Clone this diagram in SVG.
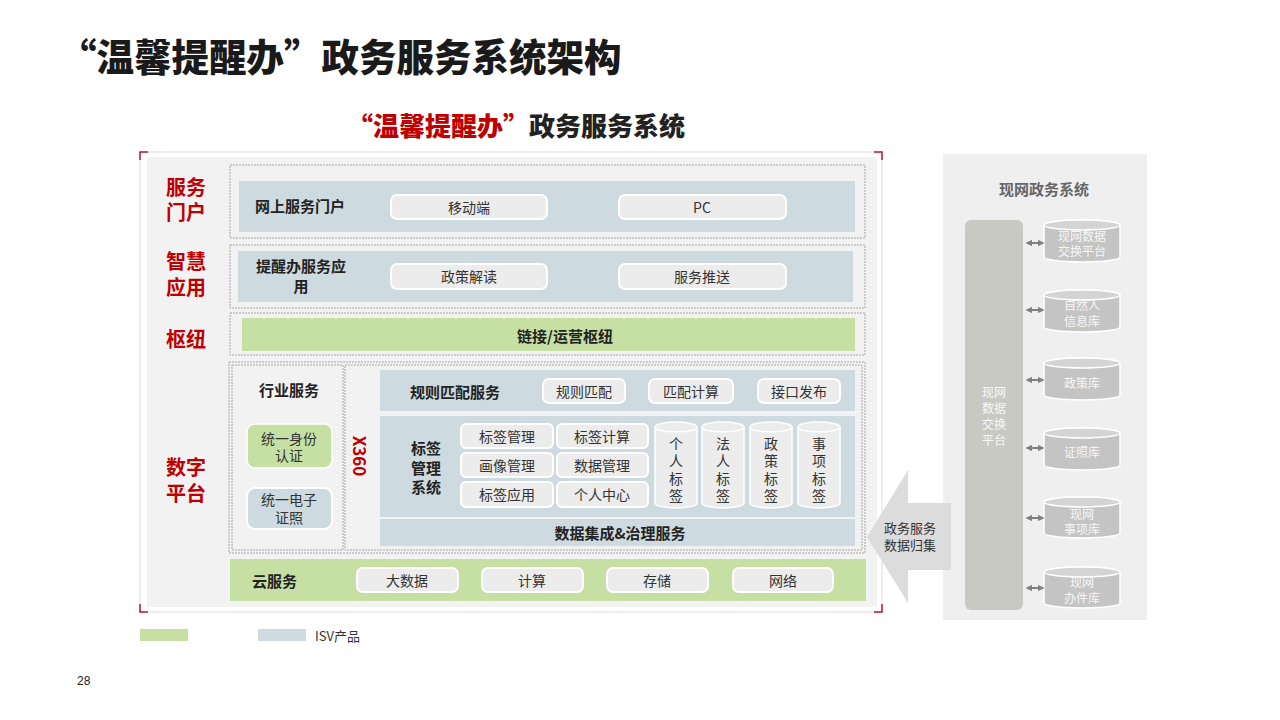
<svg xmlns="http://www.w3.org/2000/svg" width="1280" height="720" viewBox="0 0 1280 720">
<defs>
<style>
text{font-family:"Noto Sans CJK SC","Noto Sans",sans-serif;fill:#333;}
.b{font-weight:700;}
.red{fill:#c00000;font-weight:700;font-size:20px;}
.hd{font-weight:700;font-size:15px;fill:#222;}
.pt{font-size:14px;fill:#333;}
.dash{fill:none;stroke:#a6a6a6;stroke-width:1;stroke-dasharray:2 1;}
.blue{fill:#cddadf;}
.green{fill:#c6e0a4;}
.pill{fill:#ececec;stroke:#ffffff;stroke-width:2;}
.cyl{fill:#ececec;stroke:#ffffff;stroke-width:1.5;}
.rcyl{fill:#c4c4c4;stroke:#ffffff;stroke-width:1.5;}
.rtop{fill:#d4d4d4;stroke:#ffffff;stroke-width:1.5;}
.rt{font-size:12px;fill:#f7f7f7;}
.corner{fill:none;stroke:#c0143c;stroke-width:1.5;}
.dbl{stroke:#7f7f7f;stroke-width:2;marker-start:url(#ah);marker-end:url(#ah);}
</style>
<marker id="ah" viewBox="0 0 10 10" refX="8" refY="5" markerWidth="3.2" markerHeight="3.2" orient="auto-start-reverse">
<path d="M0,0 L10,5 L0,10 z" fill="#7f7f7f"/>
</marker>
</defs>
<rect width="1280" height="720" fill="#ffffff"/>

<g id="title">
<text x="59" y="71" font-weight="900" font-size="37.5" style="fill:#1a1a1a">“温馨提醒办”政务服务系统架构</text>
<text x="516" y="136" font-weight="900" font-size="26" text-anchor="middle"><tspan style="fill:#c00000">“温馨提醒办”</tspan><tspan style="fill:#222">政务服务系统</tspan></text>
</g>

<g id="main-frame">
<rect x="140" y="152" width="742" height="460" fill="#ffffff" stroke="#dcdcdc" stroke-width="1"/>
<rect x="147" y="157" width="730" height="450" fill="#f2f2f2"/>
<path class="corner" d="M140,160 V152 H148 M874,152 H882 V160 M140,604 V612 H148 M874,612 H882 V604"/>
</g>

<g id="left-labels">
<text class="red" text-anchor="middle"><tspan x="186" y="195">服务</tspan><tspan x="186" y="220">门户</tspan></text>
<text class="red" text-anchor="middle"><tspan x="186" y="269">智慧</tspan><tspan x="186" y="295">应用</tspan></text>
<text class="red" x="186" y="347" text-anchor="middle">枢纽</text>
<text class="red" text-anchor="middle"><tspan x="186" y="475">数字</tspan><tspan x="186" y="501">平台</tspan></text>
</g>

<g id="row-portal">
<rect class="dash" x="230" y="165" width="635" height="73"/>
<rect class="blue" x="239" y="181" width="616" height="51"/>
<text class="hd" x="255" y="205" dominant-baseline="central">网上服务门户</text>
<rect class="pill" x="391" y="195" width="156" height="24" rx="6"/>
<text class="pt" x="469" y="207" text-anchor="middle" dominant-baseline="central">移动端</text>
<rect class="pill" x="619" y="195" width="167" height="24" rx="6"/>
<text class="pt" x="702" y="207" text-anchor="middle" dominant-baseline="central">PC</text>
</g>

<g id="row-app">
<rect class="dash" x="230" y="245" width="635" height="63"/>
<rect class="blue" x="238" y="251" width="615" height="51"/>
<text class="hd" text-anchor="middle"><tspan x="301" y="272">提醒办服务应</tspan><tspan x="301" y="292">用</tspan></text>
<rect class="pill" x="391" y="264" width="156" height="25" rx="6"/>
<text class="pt" x="469" y="276" text-anchor="middle" dominant-baseline="central">政策解读</text>
<rect class="pill" x="619" y="264" width="167" height="25" rx="6"/>
<text class="pt" x="702" y="276" text-anchor="middle" dominant-baseline="central">服务推送</text>
</g>

<g id="row-hub">
<rect class="dash" x="230" y="313" width="635" height="42"/>
<rect class="green" x="242" y="318" width="613" height="33"/>
<text class="hd" x="565" y="335" text-anchor="middle" dominant-baseline="central">链接/运营枢纽</text>
</g>

<g id="digital-platform">
<rect class="dash" x="229" y="362" width="636" height="191"/>
<rect class="dash" x="232" y="365" width="111" height="185"/>
<rect class="dash" x="345" y="365" width="517" height="185"/>
</g>

<g id="industry-service">
<text class="hd" x="289" y="389" text-anchor="middle" dominant-baseline="central">行业服务</text>
<rect class="green" x="247" y="424" width="85" height="44" rx="8" stroke="#ffffff" stroke-width="1.5"/>
<text class="pt" text-anchor="middle"><tspan x="289" y="444">统一身份</tspan><tspan x="289" y="461">认证</tspan></text>
<rect class="blue" x="247" y="488" width="85" height="41" rx="8" stroke="#ffffff" stroke-width="2"/>
<text class="pt" text-anchor="middle"><tspan x="289" y="505">统一电子</tspan><tspan x="289" y="523">证照</tspan></text>
</g>

<g id="x360">
<text transform="translate(360,456) rotate(90)" class="b" font-size="17" text-anchor="middle" dominant-baseline="central" style="fill:#c00000">X360</text>
</g>

<g id="rule-matching">
<rect class="blue" x="380" y="370" width="475" height="41"/>
<text class="hd" x="410" y="391" dominant-baseline="central">规则匹配服务</text>
<rect class="pill" x="543" y="379" width="82" height="24" rx="6"/>
<text class="pt" x="584" y="391" text-anchor="middle" dominant-baseline="central">规则匹配</text>
<rect class="pill" x="649" y="379" width="84" height="24" rx="6"/>
<text class="pt" x="691" y="391" text-anchor="middle" dominant-baseline="central">匹配计算</text>
<rect class="pill" x="758" y="379" width="82" height="24" rx="6"/>
<text class="pt" x="799" y="391" text-anchor="middle" dominant-baseline="central">接口发布</text>
</g>

<g id="tag-system">
<rect class="blue" x="380" y="416" width="475" height="101"/>
<text class="hd" text-anchor="middle"><tspan x="426" y="454">标签</tspan><tspan x="426" y="474">管理</tspan><tspan x="426" y="493">系统</tspan></text>
<rect class="pill" x="461" y="424" width="92" height="24" rx="5"/>
<text class="pt" x="507" y="436" text-anchor="middle" dominant-baseline="central">标签管理</text>
<rect class="pill" x="557" y="424" width="91" height="24" rx="5"/>
<text class="pt" x="602" y="436" text-anchor="middle" dominant-baseline="central">标签计算</text>
<rect class="pill" x="461" y="453" width="92" height="24" rx="5"/>
<text class="pt" x="507" y="465" text-anchor="middle" dominant-baseline="central">画像管理</text>
<rect class="pill" x="557" y="453" width="91" height="24" rx="5"/>
<text class="pt" x="602" y="465" text-anchor="middle" dominant-baseline="central">数据管理</text>
<rect class="pill" x="461" y="482" width="92" height="25" rx="5"/>
<text class="pt" x="507" y="494" text-anchor="middle" dominant-baseline="central">标签应用</text>
<rect class="pill" x="557" y="482" width="91" height="25" rx="5"/>
<text class="pt" x="602" y="494" text-anchor="middle" dominant-baseline="central">个人中心</text>
</g>

<g id="tag-cylinders">
<path class="cyl" d="M655,427 A21,5 0 0 1 697,427 V503 A21,5 0 0 1 655,503 Z"/>
<path class="cyl" d="M655,427 A21,5 0 0 0 697,427"/>
<text class="pt" font-size="15" text-anchor="middle"><tspan x="676" y="449">个</tspan><tspan x="676" y="466">人</tspan><tspan x="676" y="484">标</tspan><tspan x="676" y="501">签</tspan></text>
<path class="cyl" d="M702,427 A21,5 0 0 1 744,427 V503 A21,5 0 0 1 702,503 Z"/>
<path class="cyl" d="M702,427 A21,5 0 0 0 744,427"/>
<text class="pt" font-size="15" text-anchor="middle"><tspan x="723" y="449">法</tspan><tspan x="723" y="466">人</tspan><tspan x="723" y="484">标</tspan><tspan x="723" y="501">签</tspan></text>
<path class="cyl" d="M750,427 A21,5 0 0 1 792,427 V503 A21,5 0 0 1 750,503 Z"/>
<path class="cyl" d="M750,427 A21,5 0 0 0 792,427"/>
<text class="pt" font-size="15" text-anchor="middle"><tspan x="771" y="449">政</tspan><tspan x="771" y="466">策</tspan><tspan x="771" y="484">标</tspan><tspan x="771" y="501">签</tspan></text>
<path class="cyl" d="M798,427 A21,5 0 0 1 840,427 V503 A21,5 0 0 1 798,503 Z"/>
<path class="cyl" d="M798,427 A21,5 0 0 0 840,427"/>
<text class="pt" font-size="15" text-anchor="middle"><tspan x="819" y="449">事</tspan><tspan x="819" y="466">项</tspan><tspan x="819" y="484">标</tspan><tspan x="819" y="501">签</tspan></text>
</g>

<g id="data-integration">
<rect class="blue" x="380" y="519" width="475" height="27"/>
<text class="hd" x="620" y="532" text-anchor="middle" dominant-baseline="central">数据集成&amp;治理服务</text>
</g>

<g id="cloud-service">
<rect class="green" x="230" y="559" width="636" height="42"/>
<text class="hd" x="252" y="580" dominant-baseline="central">云服务</text>
<rect class="pill" x="357" y="568" width="101" height="24" rx="6"/>
<text class="pt" x="407" y="580" text-anchor="middle" dominant-baseline="central">大数据</text>
<rect class="pill" x="482" y="568" width="101" height="24" rx="6"/>
<text class="pt" x="532" y="580" text-anchor="middle" dominant-baseline="central">计算</text>
<rect class="pill" x="607" y="568" width="101" height="24" rx="6"/>
<text class="pt" x="657" y="580" text-anchor="middle" dominant-baseline="central">存储</text>
<rect class="pill" x="733" y="568" width="100" height="24" rx="6"/>
<text class="pt" x="783" y="580" text-anchor="middle" dominant-baseline="central">网络</text>
</g>

<g id="right-panel">
<rect x="943" y="154" width="204" height="466" fill="#efefef"/>
<text x="1044" y="188" class="b" font-size="15" text-anchor="middle" dominant-baseline="central" style="fill:#666">现网政务系统</text>
</g>

<g id="exchange-bar">
<rect x="965" y="220" width="58" height="390" rx="6" fill="#c9c9c4"/>
<text class="rt" font-size="13" text-anchor="middle"><tspan x="994" y="397">现网</tspan><tspan x="994" y="413">数据</tspan><tspan x="994" y="429">交换</tspan><tspan x="994" y="445">平台</tspan></text>
</g>

<g id="db-exchange">
<path class="rcyl" d="M1044,225 A38,5 0 0 1 1120,225 V257 A38,5 0 0 1 1044,257 Z"/>
<ellipse class="rtop" cx="1082" cy="225" rx="38" ry="5"/>
<text class="rt" text-anchor="middle"><tspan x="1082" y="241">现网数据</tspan><tspan x="1082" y="256">交换平台</tspan></text>
</g>
<g id="db-person">
<path class="rcyl" d="M1044,295 A38,5 0 0 1 1120,295 V327 A38,5 0 0 1 1044,327 Z"/>
<ellipse class="rtop" cx="1082" cy="295" rx="38" ry="5"/>
<text class="rt" text-anchor="middle"><tspan x="1082" y="310">自然人</tspan><tspan x="1082" y="326">信息库</tspan></text>
</g>
<g id="db-policy">
<path class="rcyl" d="M1044,363 A38,5 0 0 1 1120,363 V395 A38,5 0 0 1 1044,395 Z"/>
<ellipse class="rtop" cx="1082" cy="363" rx="38" ry="5"/>
<text class="rt" x="1082" y="382" text-anchor="middle" dominant-baseline="central">政策库</text>
</g>
<g id="db-license">
<path class="rcyl" d="M1044,433 A38,5 0 0 1 1120,433 V465 A38,5 0 0 1 1044,465 Z"/>
<ellipse class="rtop" cx="1082" cy="433" rx="38" ry="5"/>
<text class="rt" x="1082" y="451" text-anchor="middle" dominant-baseline="central">证照库</text>
</g>
<g id="db-matter">
<path class="rcyl" d="M1044,502 A38,5 0 0 1 1120,502 V533 A38,5 0 0 1 1044,533 Z"/>
<ellipse class="rtop" cx="1082" cy="502" rx="38" ry="5"/>
<text class="rt" text-anchor="middle"><tspan x="1082" y="519">现网</tspan><tspan x="1082" y="534">事项库</tspan></text>
</g>
<g id="db-case">
<path class="rcyl" d="M1044,572 A38,5 0 0 1 1120,572 V603 A38,5 0 0 1 1044,603 Z"/>
<ellipse class="rtop" cx="1082" cy="572" rx="38" ry="5"/>
<text class="rt" text-anchor="middle"><tspan x="1082" y="587">现网</tspan><tspan x="1082" y="603">办件库</tspan></text>
</g>

<g id="connectors">
<line class="dbl" x1="1027" y1="243" x2="1043" y2="243"/>
<line class="dbl" x1="1027" y1="310" x2="1043" y2="310"/>
<line class="dbl" x1="1027" y1="380" x2="1043" y2="380"/>
<line class="dbl" x1="1027" y1="448" x2="1043" y2="448"/>
<line class="dbl" x1="1027" y1="518" x2="1043" y2="518"/>
<line class="dbl" x1="1027" y1="588" x2="1043" y2="588"/>
</g>

<g id="collect-arrow">
<polygon points="951,503 908,503 908,470 867,537 908,603 908,570 951,570" fill="#dcdcdc"/>
<text font-size="13" text-anchor="middle"><tspan x="910" y="533">政务服务</tspan><tspan x="910" y="550">数据归集</tspan></text>
</g>

<g id="legend">
<rect class="green" x="140" y="629" width="48" height="12"/>
<rect class="blue" x="258" y="629" width="48" height="12"/>
<text x="315" y="635" font-size="13" dominant-baseline="central">ISV产品</text>
</g>

<text x="77" y="681" font-size="12" dominant-baseline="central" style="fill:#222;font-family:'Liberation Sans',sans-serif">28</text>
</svg>
